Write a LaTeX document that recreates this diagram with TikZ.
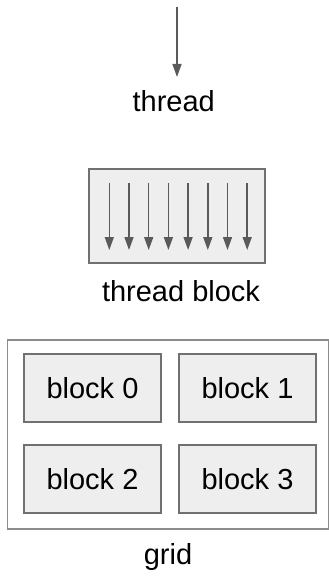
\documentclass[tikz,border=0pt]{standalone}
\usepackage{fontspec}
\setmainfont{Liberation Sans}
\usetikzlibrary{arrows.meta}
\definecolor{boxfill}{HTML}{EEEEEE}
\definecolor{boxline}{HTML}{707070}
\definecolor{gridline}{HTML}{8C8C8C}
\definecolor{arrowgray}{HTML}{5A5A5A}
\begin{document}
\begin{tikzpicture}[x=1pt,y=-1pt,
  lbl/.style={font=\fontsize{29}{34}\selectfont, inner sep=0pt, anchor=base},
  arr/.style={draw=arrowgray, line width=1.5pt, -{Triangle[width=9pt,length=13pt]}},
  tbox/.style={draw=boxline, fill=boxfill, line width=1.6pt, inner sep=0pt},
  gbox/.style={draw=gridline, fill=white, line width=1.6pt, inner sep=0pt,
               minimum width=321pt, minimum height=189pt},
  blk/.style={draw=boxline, fill=boxfill, line width=1.5pt, inner sep=0pt,
              minimum width=137pt, minimum height=68pt,
              font=\fontsize{29}{34}\selectfont}
]
\useasboundingbox (0,0) rectangle (329,578);
% single thread
\coordinate (ttop) at (177,7);
\coordinate (tend) at (177,77);
\draw[arr] (ttop) -- (tend);
\node[lbl] (thread) at (173.7,111) {thread};
% thread block
\node[tbox, minimum width=176pt, minimum height=94pt] (tb) at (177,216) {};
\foreach \i in {0,...,7}{
  \coordinate (s\i) at (109.3+19.7*\i,183);
  \coordinate (e\i) at (109.3+19.7*\i,250);
  \draw[arr] (s\i) -- (e\i);
}
\node[lbl] (tblabel) at (181,301) {thread block};
% grid
\node[gbox] (grid) at (168,434.5) {};
\node[blk] (b0) at (92.5,388) {block 0};
\node[blk] (b1) at (247.5,388) {block 1};
\node[blk] (b2) at (92.5,479) {block 2};
\node[blk] (b3) at (247.5,479) {block 3};
\node[lbl] (gridlabel) at (168,564) {grid};
\end{tikzpicture}
\end{document}
